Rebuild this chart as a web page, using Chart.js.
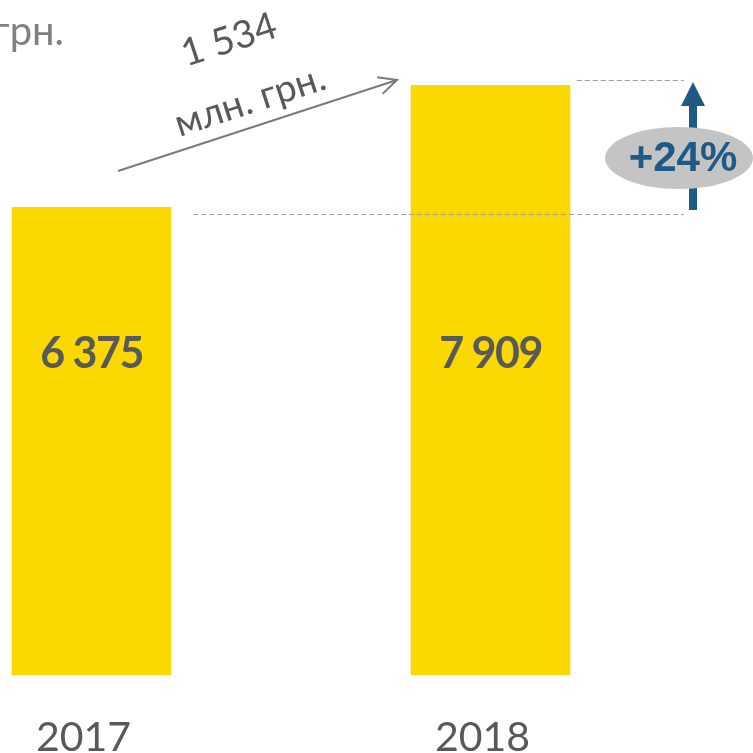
<!DOCTYPE html>
<html>
<head>
<meta charset="utf-8">
<script src="https://cdn.jsdelivr.net/npm/chart.js@4.4.1/dist/chart.umd.min.js"></script>
<style>
    html, body { margin: 0; padding: 0; background: #ffffff; }
    #wrap { width: 753px; height: 753px; position: relative; }
</style>
</head>
<body>
<div id="wrap"><canvas id="chart"></canvas></div>
<script>
// Дані графіка
const years = ['2017', '2018'];
const values = [6375, 7909];
const valueLabels = ['6 375', '7 909'];
const deltaLabel = ['1 534', 'млн. грн.'];
const growthLabel = '+24%';
const unitLabel = 'млн. грн.';

// Кольори
const barColor = '#FAD800';
const textDark = '#595959';
const textGray = '#808080';
const arrowBlue = '#1F5A85';

// Плагін для підписів і стрілок
const annotationsPlugin = {
    id: 'annotations',
    afterDatasetsDraw(chart) {
        const ctx = chart.ctx;
        const area = chart.chartArea;
        const bars = chart.getDatasetMeta(0).data;
        const b1 = bars[0], b2 = bars[1];

        ctx.save();

        // Підпис одиниць (обрізаний зліва)
        ctx.fillStyle = textGray;
        ctx.font = '40px Lato';
        ctx.textAlign = 'right';
        ctx.textBaseline = 'alphabetic';
        ctx.fillText(unitLabel, 64, 45);

        // Значення всередині стовпців
        ctx.fillStyle = textDark;
        ctx.font = 'bold 43px Lato';
        ctx.letterSpacing = '-1.5px';
        ctx.textAlign = 'center';
        ctx.textBaseline = 'middle';
        const labelY = area.bottom - 321;
        bars.forEach((bar, i) => {
            ctx.fillText(valueLabels[i], bar.x, labelY);
        });
        ctx.letterSpacing = '0px';

        // Сіра стрілка приросту
        const x0 = 118, y0 = 171, x1 = 397, y1 = 80;
        const ang = Math.atan2(y1 - y0, x1 - x0);
        ctx.strokeStyle = '#7a7a7a';
        ctx.lineWidth = 2;
        ctx.beginPath();
        ctx.moveTo(x0, y0);
        ctx.lineTo(x1, y1);
        ctx.moveTo(x1 - 20 * Math.cos(ang - 0.45), y1 - 20 * Math.sin(ang - 0.45));
        ctx.lineTo(x1, y1);
        ctx.lineTo(x1 - 20 * Math.cos(ang + 0.45), y1 - 20 * Math.sin(ang + 0.45));
        ctx.stroke();

        // Текст уздовж стрілки
        ctx.fillStyle = textDark;
        ctx.font = '38px Lato';
        ctx.save();
        ctx.translate(229, 40);
        ctx.rotate(ang);
        ctx.fillText(deltaLabel[0], 0, 0);
        ctx.restore();
        ctx.save();
        ctx.translate(250, 101);
        ctx.rotate(ang);
        ctx.fillText(deltaLabel[1], 0, 0);
        ctx.restore();

        // Пунктирні лінії рівнів
        const lowY = b1.y + 7;
        const highY = b2.y - 5;
        ctx.strokeStyle = '#a0a0a0';
        ctx.lineWidth = 1;
        ctx.setLineDash([5, 3]);
        ctx.beginPath();
        ctx.moveTo(193, lowY + 0.5);
        ctx.lineTo(684, lowY + 0.5);
        ctx.moveTo(577, highY + 0.5);
        ctx.lineTo(684, highY + 0.5);
        ctx.stroke();
        ctx.setLineDash([]);

        // Синя стрілка
        const ax = 693;
        ctx.fillStyle = arrowBlue;
        ctx.fillRect(ax - 4, 103, 8, lowY - 103 - 4);
        ctx.beginPath();
        ctx.moveTo(ax, highY + 2);
        ctx.lineTo(ax + 12, 106);
        ctx.lineTo(ax - 12, 106);
        ctx.closePath();
        ctx.fill();

        // Еліпс з відсотком
        ctx.fillStyle = '#C4C4C4';
        ctx.beginPath();
        ctx.ellipse(679, 158, 74, 31, 0, 0, Math.PI * 2);
        ctx.fill();
        ctx.fillStyle = arrowBlue;
        ctx.font = 'bold 42px "Liberation Sans"';
        ctx.fillText(growthLabel, 683, 159);

        ctx.restore();
    }
};

const ctx = document.getElementById('chart').getContext('2d');
new Chart(ctx, {
    type: 'bar',
    data: {
        labels: years,
        datasets: [{
            data: values,
            backgroundColor: barColor,
            borderWidth: 0,
            categoryPercentage: 1,
            barPercentage: 0.4,
            clip: { left: false, right: false, top: false, bottom: 0 }
        }]
    },
    options: {
        responsive: true,
        maintainAspectRatio: false,
        animation: false,
        layout: {
            padding: { left: 91.5, right: 262.5, top: 85, bottom: 0 }
        },
        plugins: {
            legend: { display: false },
            tooltip: { enabled: false }
        },
        scales: {
            x: {
                offset: false,
                grid: { display: false, drawTicks: false },
                border: { display: false },
                afterFit(scale) {
                    scale.height = 78;
                },
                ticks: {
                    color: textDark,
                    padding: 38,
                    labelOffset: -8,
                    font: { family: '"Liberation Sans Narrow", Lato', size: 41 }
                }
            },
            y: {
                display: false,
                min: 490,
                max: 7909
            }
        }
    },
    plugins: [annotationsPlugin]
});
</script>
</body>
</html>
